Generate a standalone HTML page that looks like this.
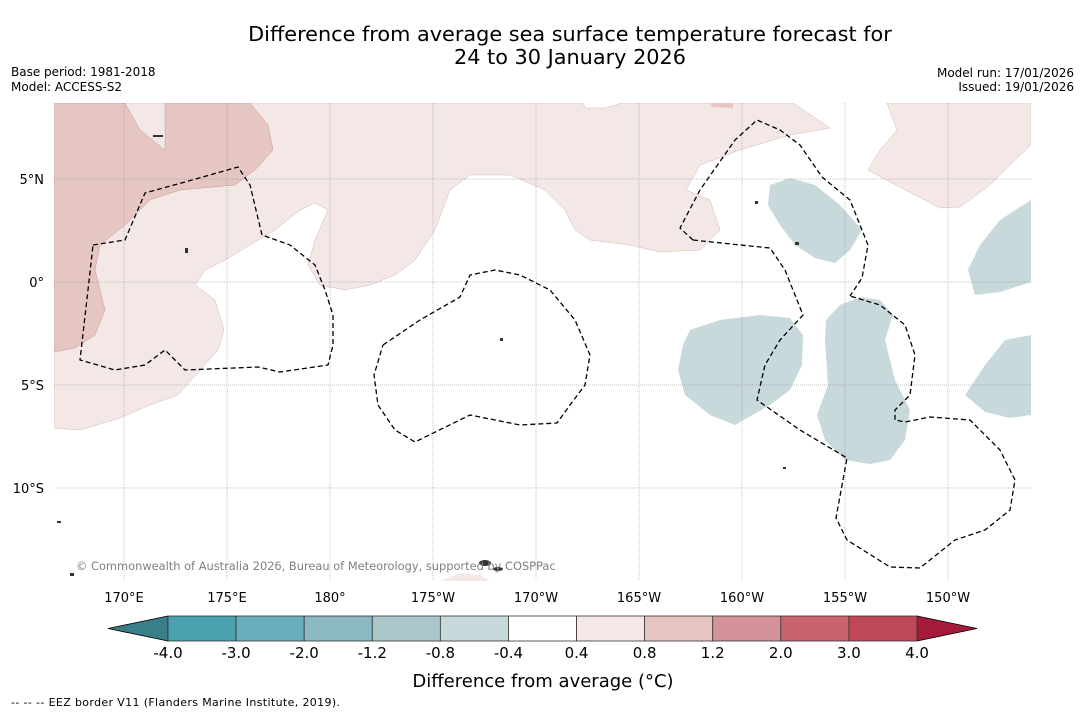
<!DOCTYPE html>
<html><head><meta charset="utf-8"><style>
body{margin:0;background:#fff;width:1085px;height:713px;overflow:hidden;font-family:"Liberation Sans","DejaVu Sans",sans-serif}
svg{position:absolute;left:0;top:0}
</style></head><body>
<svg id="s" width="1085" height="713" xmlns="http://www.w3.org/2000/svg" font-family="DejaVu Sans, Liberation Sans, sans-serif">
<text x="570" y="41" font-size="20.8" text-anchor="middle">Difference from average sea surface temperature forecast for</text>
<text x="570" y="64" font-size="20.8" text-anchor="middle">24 to 30 January 2026</text>
<text x="11" y="76" font-size="12">Base period: 1981-2018</text>
<text x="11" y="91" font-size="12">Model: ACCESS-S2</text>
<text x="1074" y="77" font-size="12" text-anchor="end">Model run: 17/01/2026</text>
<text x="1074" y="91" font-size="12" text-anchor="end">Issued: 19/01/2026</text>
<g>
<clipPath id="c"><rect x="54" y="103" width="977" height="478"/></clipPath>
<g clip-path="url(#c)" stroke-linejoin="round">
<polygon fill="#f4e8e7" stroke="#c9a8a6" stroke-width="0.4" points="54,103 583,103 585,108 605,108 622,103 793,103 830,128 790,135 740,150 700,165 686,190 710,200 720,230 700,250 660,252 630,245 590,240 575,230 565,210 545,190 510,175 470,175 450,190 435,230 415,260 395,275 370,285 345,290 320,285 308,265 315,240 328,210 315,203 300,210 275,230 250,245 225,260 205,270 195,285 215,300 224,330 218,350 200,370 178,395 150,405 120,418 80,430 54,428"/>
<polygon fill="#e6c6c2" stroke="#b98a86" stroke-width="0.4" points="54,103 125,103 140,130 165,150 165,103 250,103 268,125 273,150 255,170 235,185 180,190 150,200 125,225 100,245 95,270 105,310 95,335 75,348 54,352"/>
<polygon fill="#f4e8e7" stroke="#c9a8a6" stroke-width="0.4" points="887,103 1031,103 1031,145 1015,160 990,185 960,207 940,208 915,195 890,182 868,170 880,150 897,130"/>
<polygon fill="#e6c6c2" points="710,103 733,103 733,108 712,107"/>
<polygon fill="#f4e8e7" points="440,581 460,573 480,575 490,581"/>
<g fill="#c8d9dc">
<polygon points="770,185 790,178 815,185 840,205 862,230 850,250 835,263 815,258 795,245 780,225 768,205"/>
<polygon points="690,330 720,320 760,315 790,318 803,335 802,365 790,390 770,405 735,425 710,415 685,395 678,370 683,345"/>
<polygon points="840,305 860,297 880,300 893,315 885,340 895,380 910,410 905,440 890,460 870,464 845,460 825,440 817,415 828,385 825,340 826,320"/>
<polygon points="1031,200 1000,220 980,245 968,270 975,295 1000,292 1031,282"/>
<polygon points="1031,335 1005,340 985,365 965,395 985,412 1010,418 1031,415"/>
</g>
<g stroke="#888" stroke-width="0.5" stroke-dasharray="1,1" fill="none">
<line x1="124" y1="103" x2="124" y2="581"/><line x1="227" y1="103" x2="227" y2="581"/><line x1="330" y1="103" x2="330" y2="581"/><line x1="433" y1="103" x2="433" y2="581"/><line x1="536" y1="103" x2="536" y2="581"/><line x1="639" y1="103" x2="639" y2="581"/><line x1="742" y1="103" x2="742" y2="581"/><line x1="845" y1="103" x2="845" y2="581"/><line x1="948" y1="103" x2="948" y2="581"/>
<line x1="54" y1="179" x2="1031" y2="179"/><line x1="54" y1="282" x2="1031" y2="282"/><line x1="54" y1="385" x2="1031" y2="385"/><line x1="54" y1="488" x2="1031" y2="488"/>
</g>
<g stroke="#000" stroke-width="1.3" stroke-dasharray="5,3" fill="none">
<polyline points="93,245 125,240 145,193 185,182 238,167 250,185 262,235 290,245 315,265 325,290 333,315 333,345 328,365 280,372 258,367 185,370 165,350 145,365 115,370 80,360 88,290 93,245"/>
<polyline points="383,345 420,320 460,297 470,275 495,270 520,275 550,290 575,320 590,355 585,385 570,405 557,423 520,425 470,415 415,442 395,430 378,405 374,375 383,345"/>
<polyline points="693,240 680,228 700,190 735,140 757,120 780,130 800,145 822,177 850,200 868,245 862,278 850,296"/>
<polyline points="693,240 740,245 770,248 785,270 803,315 780,340 765,365 757,400 800,430 847,458 836,518 847,540 890,567 920,568 955,540 985,530 1010,510 1015,480 1000,450 970,420 930,417 905,422 895,420 895,410 910,395 915,355 905,325 880,305 850,296"/>
</g>
<g fill="#333">
<ellipse cx="485" cy="563" rx="6" ry="3"/><ellipse cx="498" cy="569" rx="5" ry="2"/><rect x="57" y="521" width="4" height="2"/><rect x="70" y="573" width="4" height="3"/><rect x="783" y="467" width="3" height="2"/><rect x="795" y="242" width="4" height="3"/><rect x="755" y="201" width="3" height="3"/><rect x="185" y="248" width="3" height="5"/><rect x="153" y="135" width="10" height="2"/><rect x="500" y="338" width="3" height="3"/>
</g>
</g>
<text x="76" y="570" font-size="11.4" fill="#808080">© Commonwealth of Australia 2026, Bureau of Meteorology, supported by COSPPac</text>
</g>
<g font-size="13" text-anchor="end">
<text x="44" y="184">5°N</text><text x="44" y="287">0°</text><text x="44" y="390">5°S</text><text x="44" y="493">10°S</text>
</g>
<g font-size="13" text-anchor="middle">
<text x="124" y="602">170°E</text><text x="227" y="602">175°E</text><text x="330" y="602">180°</text><text x="433" y="602">175°W</text><text x="536" y="602">170°W</text><text x="639" y="602">165°W</text><text x="742" y="602">160°W</text><text x="845" y="602">155°W</text><text x="948" y="602">150°W</text>
</g>
<g id="cb"></g>
<text x="543" y="687" font-size="18" text-anchor="middle">Difference from average (°C)</text>
<text x="11" y="706" font-size="11" textLength="329">--  --  -- EEZ border V11 (Flanders Marine Institute, 2019).</text>
</svg>
<script>
const binColors=["#4aa2b1","#6aafbb","#8bb8c3","#a9c7cb","#c8d9dc","#ffffff","#f5e8e7","#e6c5c1","#d4939a","#c9646f","#bf4858"];
const tickLabels=["-4.0","-3.0","-2.0","-1.2","-0.8","-0.4","0.4","0.8","1.2","2.0","3.0","4.0"];
const lowColor="#3a7f88", highColor="#a51c3a";
const g=document.getElementById('cb');const NS="http://www.w3.org/2000/svg";
const x0=168,x1=917,y0=616,h=25,w=(x1-x0)/binColors.length;
function mk(t,a){const e=document.createElementNS(NS,t);for(const k in a)e.setAttribute(k,a[k]);g.appendChild(e);return e;}
const lt=mk('polygon',{points:`${x0},${y0} ${x0},${y0+h} 108,${y0+h/2}`,fill:lowColor,stroke:'#000','stroke-width':0.8});


const rt=mk('polygon',{points:`${x1},${y0} ${x1},${y0+h} 977,${y0+h/2}`,fill:highColor,stroke:'#000','stroke-width':0.8});


binColors.forEach((c,i)=>{
 const r=mk('rect',{x:x0+i*w,y:y0,width:w,height:h,fill:c,stroke:'#333','stroke-width':0.8});
 
 
});
tickLabels.forEach((t,i)=>{
 const e=mk('text',{x:x0+i*w,y:658,'font-size':15,'text-anchor':'middle'});e.textContent=t;
 
 
});
</script>
</body></html>
